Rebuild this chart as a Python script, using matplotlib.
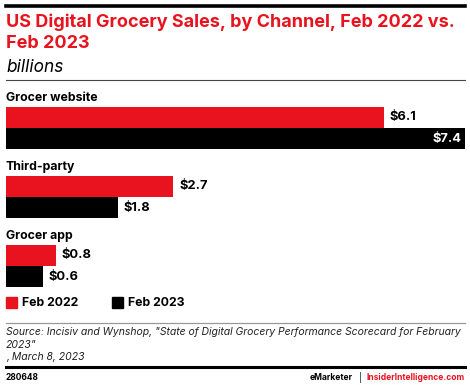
import matplotlib.pyplot as plt
from matplotlib.patches import Rectangle

# data
channels = ['Grocer website', 'Third-party', 'Grocer app']
feb_2022 = [6.1, 2.7, 0.8]
feb_2023 = [7.4, 1.8, 0.6]

RED = '#e8131e'
W, H = 470, 388

plt.rcParams['font.family'] = ['Inter', 'DejaVu Sans']

fig = plt.figure(figsize=(W / 100, H / 100), dpi=100)
renderer = fig.canvas.get_renderer()


def fx(px):
    return px / W


def fy(py):
    return 1 - py / H


def fit(t, width_px):
    # scale font so the text spans the width seen in the reference
    w = t.get_window_extent(renderer).width
    t.set_fontsize(t.get_fontsize() * width_px / w)
    return t


# top rule, title, subtitle
fig.add_artist(plt.Line2D([fx(6), fx(465)], [fy(6), fy(6)], color='black', lw=2.6))
t1 = fig.text(fx(6), fy(22.5), 'US Digital Grocery Sales, by Channel, Feb 2022 vs.',
              color=RED, fontsize=14, fontweight='bold', va='center')
fit(t1, 449)
fig.text(fx(6), fy(43), 'Feb 2023', color=RED, fontsize=t1.get_fontsize(),
         fontweight='bold', va='center')
sub = fig.text(fx(6), fy(67), 'billions', color='black', fontsize=12, style='italic',
               va='center')
fit(sub, 57)
fig.add_artist(plt.Line2D([fx(6), fx(465)], [fy(80), fy(80)], color='#444444', lw=0.8))

# bars
ax = fig.add_axes([fx(6), fy(290), fx(465) - fx(6), (290 - 88) / H])
ax.set_xlim(0, 7.4)
ax.set_ylim(2.348, -0.58)
ax.axis('off')

h = 0.31
y = list(range(len(channels)))
ax.barh([v - h / 2 for v in y], feb_2022, height=h, color=RED)
ax.barh([v + h / 2 for v in y], feb_2023, height=h, color='black')

lab = ax.text(0, -0.435, channels[0], fontsize=9.5, fontweight='bold', va='center', ha='left')
fit(lab, 92)
cat_fs = lab.get_fontsize()
for i, name in enumerate(channels[1:], start=1):
    ax.text(0, i - 0.435, name, fontsize=cat_fs, fontweight='bold', va='center', ha='left')

val_fs = cat_fs * 1.05
for i in range(len(channels)):
    ax.text(feb_2022[i] + 0.09, i - h / 2, f'${feb_2022[i]:.1f}', fontsize=val_fs,
            fontweight='bold', va='center', ha='left')
    if feb_2023[i] > 6:
        ax.text(feb_2023[i] - 0.05, i + h / 2, f'${feb_2023[i]:.1f}', fontsize=val_fs,
                fontweight='bold', va='center', ha='right', color='white')
    else:
        ax.text(feb_2023[i] + 0.09, i + h / 2, f'${feb_2023[i]:.1f}', fontsize=val_fs,
                fontweight='bold', va='center', ha='left')

# legend
for x0, col, lg in [(6, RED, 'Feb 2022'), (112, 'black', 'Feb 2023')]:
    fig.add_artist(Rectangle((fx(x0), fy(308)), 11 / W, 11 / H, color=col,
                             transform=fig.transFigure))
    fig.text(fx(x0 + 16), fy(303), lg, fontsize=cat_fs, fontweight='bold', va='center')

# source
fig.add_artist(plt.Line2D([fx(6), fx(465)], [fy(323), fy(323)], color='#999999', lw=0.9))
src = ['Source: Incisiv and Wynshop, "State of Digital Grocery Performance Scorecard for February',
       '2023"', ', March 8, 2023']
s0 = fig.text(fx(6), fy(332), src[0], fontsize=8.4, style='italic', color='#222222', va='center')
fit(s0, 456)
for k, line in enumerate(src[1:], start=1):
    fig.text(fx(6), fy(332 + 12.5 * k), line, fontsize=s0.get_fontsize(), style='italic',
             color='#222222', va='center')

# footer
fig.add_artist(plt.Line2D([fx(6), fx(465)], [fy(367), fy(367)], color='black', lw=2.2))
code = fig.text(fx(6), fy(377.5), '280648', fontsize=7, fontweight='bold', va='center')
fit(code, 33)
ii = fig.text(fx(465), fy(377.5), 'InsiderIntelligence.com', fontsize=7.3, fontweight='bold',
              color=RED, va='center', ha='right')
fit(ii, 97)
fig.text(fx(360), fy(377.5), '|', fontsize=ii.get_fontsize(), color='black',
         va='center', ha='center')
fig.text(fx(353), fy(377.5), 'eMarketer', fontsize=ii.get_fontsize(), fontweight='bold',
         color='black', va='center', ha='right')

fig.savefig('out.png', dpi=100)
